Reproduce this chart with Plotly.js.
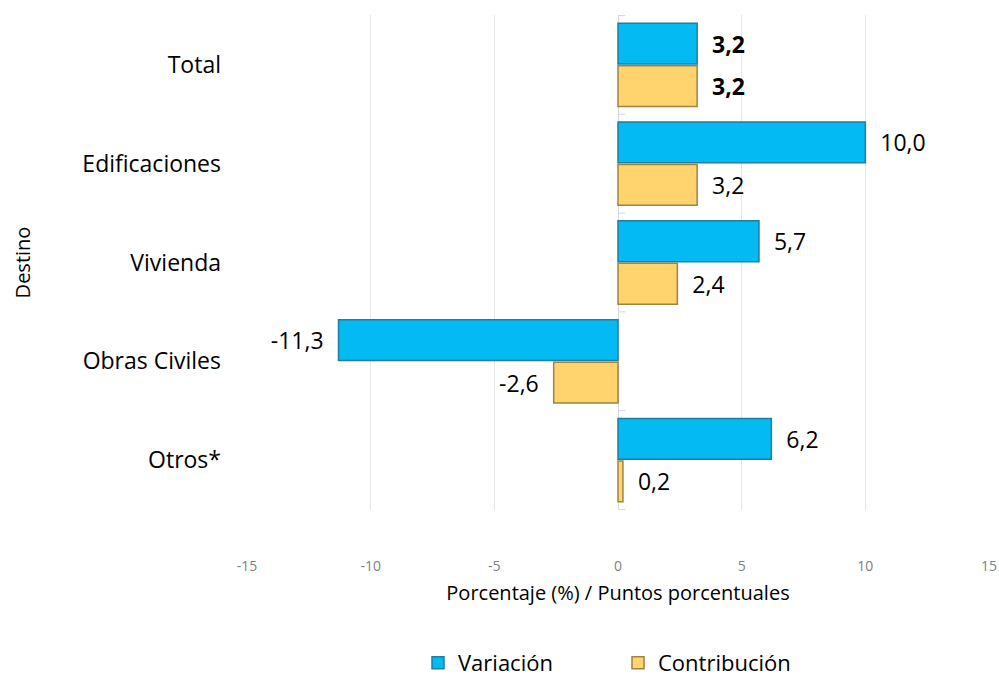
<!DOCTYPE html>
<html><head><meta charset="utf-8">
<script src="https://cdn.plot.ly/plotly-3.0.1.min.js"></script>
<style>html,body{margin:0;padding:0;background:#fff}#chart{width:999px;height:677px}</style>
</head><body><div id="chart"></div>
<script>
const categories = ['Total', 'Edificaciones', 'Vivienda', 'Obras Civiles', 'Otros*'];
const variacion = [3.2, 10.0, 5.7, -11.3, 6.2];
const contribucion = [3.2, 3.2, 2.4, -2.6, 0.2];
const xTicks = [-15, -10, -5, 0, 5, 10, 15];

const NB = '\u00a0';
function labels(vals) {
  return vals.map((v, i) => {
    let s = v.toFixed(1).replace('.', ',');
    if (categories[i] === 'Total') s = '<b>' + s + '</b>';
    return v >= 0 ? NB + NB + s : s + NB + NB;
  });
}
const font = 'Open Sans, Liberation Sans, sans-serif';

const traces = [
  {type: 'bar', orientation: 'h', name: 'Variación', y: categories, x: variacion,
   text: labels(variacion), textposition: 'outside', cliponaxis: false, constraintext: 'none',
   textfont: {family: font, size: 23, color: '#000'},
   marker: {color: '#03BAF2', line: {color: '#1E7FA3', width: 1.5}}},
  {type: 'bar', orientation: 'h', name: 'Contribución', y: categories, x: contribucion,
   text: labels(contribucion), textposition: 'outside', cliponaxis: false, constraintext: 'none',
   textfont: {family: font, size: 23, color: '#000'},
   marker: {color: '#FFD46C', line: {color: '#A08342', width: 1.5}}}
];

const shapes = [];
for (let k = 0; k <= categories.length; k++) {
  shapes.push({type: 'line', xref: 'x', yref: 'y', x0: 0, x1: 0.3, y0: k - 0.5, y1: k - 0.5,
    line: {color: '#D9D9D9', width: 1}});
}

const layout = {
  width: 999, height: 677,
  margin: {l: 247, r: 10, t: 15, b: 167, autoexpand: false},
  paper_bgcolor: '#fff', plot_bgcolor: '#fff',
  barmode: 'group', bargap: 0.14, bargroupgap: 0.04,
  showlegend: true,
  legend: {orientation: 'h', x: 0.5, xanchor: 'center', y: -0.309, yanchor: 'middle',
    font: {family: font, size: 22, color: '#000'}, itemwidth: 30, entrywidth: 155},
  xaxis: {range: [-15, 15], tickvals: xTicks, ticktext: xTicks.map(String), automargin: false,
    showgrid: true, gridcolor: '#E6E6E6', gridwidth: 1,
    zeroline: true, zerolinecolor: '#D9D9D9', zerolinewidth: 1,
    showline: false, ticks: '', ticklen: 0, ticklabelstandoff: 46,
    tickfont: {family: font, size: 14, color: '#7F7F7F'},
    title: {text: 'Porcentaje (%) / Puntos porcentuales', standoff: 11,
      font: {family: font, size: 20, color: '#000'}}},
  yaxis: {type: 'category', autorange: 'reversed', showgrid: false, zeroline: false, automargin: false,
    showline: false, ticks: '', ticklabelstandoff: 25,
    tickfont: {family: font, size: 23, color: '#000'},
    title: {text: 'Destino', standoff: 46, font: {family: font, size: 20, color: '#000'}}},
  shapes: shapes
};

Plotly.newPlot('chart', traces, layout, {displayModeBar: false, staticPlot: true});
</script></body></html>
